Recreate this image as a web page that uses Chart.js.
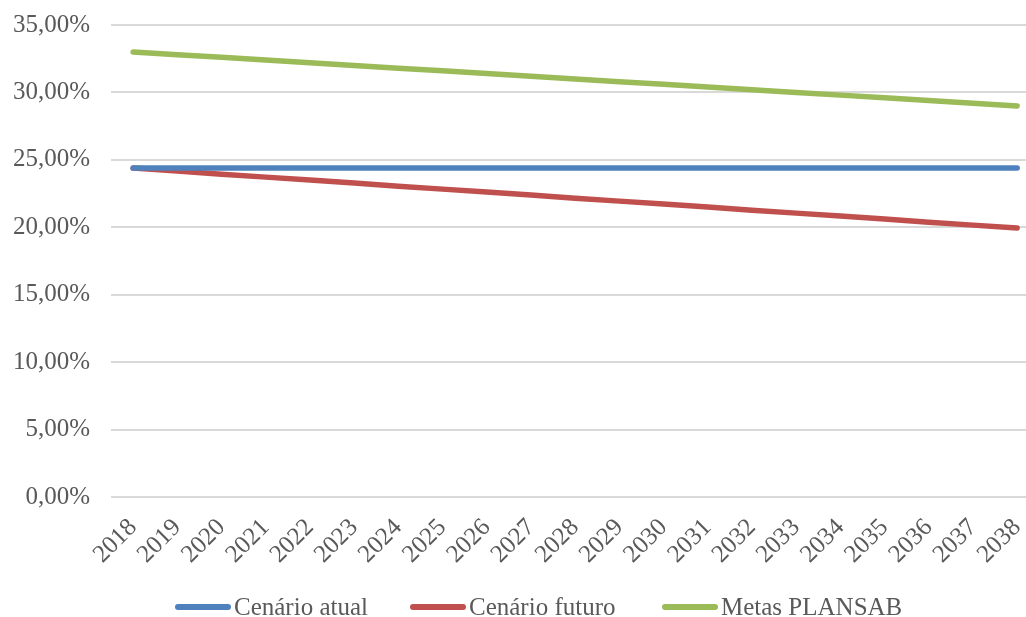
<!DOCTYPE html>
<html>
<head>
<meta charset="utf-8">
<script src="https://cdn.jsdelivr.net/npm/chart.js@4/dist/chart.umd.min.js"></script>
<style>
html,body{margin:0;padding:0;background:#fff;}
#wrap{width:1026px;height:617px;position:relative;overflow:hidden;}
#c{position:absolute;left:0;top:0;}
#legend{position:absolute;left:0;top:591px;width:1026px;height:32px;font-family:"Liberation Serif",serif;font-size:25px;color:#595959;}
.item{position:absolute;top:0;height:32px;display:flex;align-items:center;white-space:nowrap;}
.sw{display:inline-block;width:56px;height:5.5px;border-radius:3px;margin-right:3px;}
</style>
</head>
<body>
<div id="wrap"><canvas id="c" width="1026" height="617"></canvas><div id="legend"></div></div>
<script>
const years = ['2018','2019','2020','2021','2022','2023','2024','2025','2026','2027','2028','2029','2030','2031','2032','2033','2034','2035','2036','2037','2038'];
const cenarioAtual = [24.39,24.39,24.39,24.39,24.39,24.39,24.39,24.39,24.39,24.39,24.39,24.39,24.39,24.39,24.39,24.39,24.39,24.39,24.39,24.39,24.39];
const cenarioFuturo = [24.39,24.17,23.94,23.72,23.50,23.28,23.05,22.83,22.61,22.39,22.16,21.94,21.72,21.50,21.27,21.05,20.83,20.61,20.38,20.16,19.94];
const metasPlansab = [33.0,32.8,32.6,32.4,32.2,32.0,31.8,31.6,31.4,31.2,31.0,30.8,30.6,30.4,30.2,30.0,29.8,29.6,29.4,29.2,29.0];
const seriesNames = ['Cenário atual','Cenário futuro','Metas PLANSAB'];
const yTicks = [0,5,10,15,20,25,30,35];
const colors = ['#4F81BD','#C0504D','#9BBB59'];
const legendLeft = [175,410,662];

const font = {family:'"Liberation Serif", serif', size:25};
const toPts = arr => arr.map((v,i)=>({x:i,y:v}));
const mk = (label,data,color)=>({label,data:toPts(data),borderColor:color,backgroundColor:color,borderWidth:5.5,pointRadius:0,borderCapStyle:'round',borderJoinStyle:'round',tension:0});

const chart = new Chart(document.getElementById('c'),{
  type:'line',
  data:{datasets:[
    mk(seriesNames[0],cenarioAtual,colors[0]),
    mk(seriesNames[1],cenarioFuturo,colors[1]),
    mk(seriesNames[2],metasPlansab,colors[2])
  ]},
  options:{
    responsive:false,animation:false,
    layout:{padding:{top:25,left:11,right:0,bottom:0}},
    plugins:{tooltip:{enabled:false},legend:{display:false}},
    scales:{
      x:{type:'linear',min:-0.5,max:20.2,
        afterBuildTicks:s=>{s.ticks=years.map((y,i)=>({value:i}));},
        afterFit:s=>{s.paddingLeft=0;s.paddingRight=0;s.height=120;},
        grid:{display:false},border:{display:false},
        ticks:{font:font,color:'#595959',minRotation:45,maxRotation:45,autoSkip:false,padding:8,
          callback:v=>years[v]}
      },
      y:{min:0,max:35,
        afterBuildTicks:s=>{s.ticks=yTicks.map(v=>({value:v}));},
        afterFit:s=>{s.width=100;s.paddingTop=0;s.paddingBottom=0;},
        grid:{color:'#D9D9D9',lineWidth:2,drawTicks:false},border:{display:false},
        ticks:{font:font,color:'#595959',padding:21,
          callback:v=>v.toFixed(2).replace('.',',')+'%'}
      }
    }
  }
});

const lg = document.getElementById('legend');
chart.data.datasets.forEach((ds,i)=>{
  const it = document.createElement('div');
  it.className='item';
  it.style.left = legendLeft[i]+'px';
  const sw = document.createElement('span');
  sw.className='sw';
  sw.style.background = ds.borderColor;
  const tx = document.createElement('span');
  tx.textContent = ds.label;
  it.appendChild(sw); it.appendChild(tx);
  lg.appendChild(it);
});
</script>
</body>
</html>
